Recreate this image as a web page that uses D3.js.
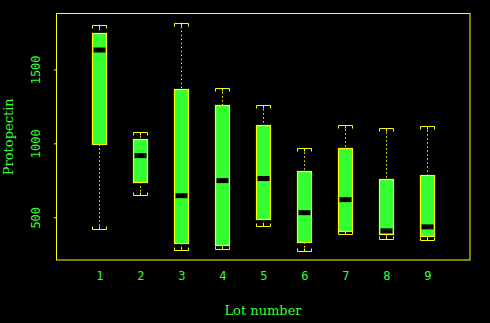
<!DOCTYPE html>
<html>
<head>
<meta charset="utf-8">
<script src="https://cdn.jsdelivr.net/npm/d3@7"></script>
<style>
  body { margin: 0; background: #000; }
  svg { display: block; }
</style>
</head>
<body>
<div id="chart"></div>
<script>
// Box plot data (Protopectin by lot)
const lots    = [1, 2, 3, 4, 5, 6, 7, 8, 9];
const lowCap  = [422, 650, 279, 283, 444, 274, 390, 356, 349];
const q1      = [993, 739, 327, 313, 490, 333, 405, 385, 371];
const median  = [1631, 917, 646, 748, 762, 531, 619, 408, 435];
const q3      = [1748, 1027, 1367, 1259, 1122, 816, 966, 762, 789];
const highCap = [1802, 1075, 1816, 1374, 1259, 966, 1122, 1102, 1116];
const yTicks  = [500, 1000, 1500];

const data = lots.map((d, i) => ({
  lot: d, lo: lowCap[i], q1: q1[i], med: median[i], q3: q3[i], hi: highCap[i]
}));

const width = 490, height = 323;
const margins = {top: 13.5, right: 20, bottom: 63, left: 56};
const yellow = "#ffff00", green = "#33ff33";

const svg = d3.select("#chart")
  .append("svg")
    .attr("width", width)
    .attr("height", height)
    .attr("viewBox", [0, 0, width, height])
    .style("background", "#000");

const xScale = d3.scaleLinear()
  .domain([1, 9])
  .range([99.3, 427.3]);

const yScale = d3.scaleLinear()
  .domain([211, 1878])
  .range([height - margins.bottom, margins.top]);

const boxW = 14;

// Whiskers (dotted)
const g = svg.append("g").attr("class", "boxes");

g.selectAll("line.upper")
  .data(data)
  .join("line")
    .attr("x1", d => Math.round(xScale(d.lot)) + 0.5)
    .attr("x2", d => Math.round(xScale(d.lot)) + 0.5)
    .attr("y1", d => yScale(d.hi))
    .attr("y2", d => yScale(d.q3))
    .attr("stroke", yellow)
    .attr("stroke-dasharray", "1.5,2.5");

g.selectAll("line.lower")
  .data(data)
  .join("line")
    .attr("x1", d => Math.round(xScale(d.lot)) + 0.5)
    .attr("x2", d => Math.round(xScale(d.lot)) + 0.5)
    .attr("y1", d => yScale(d.q1))
    .attr("y2", d => yScale(d.lo))
    .attr("stroke", yellow)
    .attr("stroke-dasharray", "1.5,2.5");

// Caps: a bar with three small ticks pointing to the box
const capPath = (x, y, dir) => {
  const l = Math.round(x - boxW / 2) + 0.5, r = l + boxW, m = Math.round(x) + 0.5;
  const yy = Math.round(y) + 0.5, t = yy + dir * 3;
  return `M${l},${t}V${yy}H${r}V${t}M${m},${yy}V${t}`;
};

g.selectAll("path.hicap")
  .data(data)
  .join("path")
    .attr("d", d => capPath(xScale(d.lot), yScale(d.hi), 1))
    .attr("fill", "none")
    .attr("stroke", yellow);

g.selectAll("path.locap")
  .data(data)
  .join("path")
    .attr("d", d => capPath(xScale(d.lot), yScale(d.lo), -1))
    .attr("fill", "none")
    .attr("stroke", yellow);

// Boxes
g.selectAll("rect.box")
  .data(data)
  .join("rect")
    .attr("x", d => Math.round(xScale(d.lot) - boxW / 2) + 0.5)
    .attr("y", d => Math.round(yScale(d.q3)) + 0.5)
    .attr("width", boxW)
    .attr("height", d => Math.round(yScale(d.q1)) - Math.round(yScale(d.q3)))
    .attr("fill", green)
    .attr("stroke", yellow)
    .attr("stroke-width", 1.2);

// Median bands
g.selectAll("rect.med")
  .data(data)
  .join("rect")
    .attr("x", d => Math.round(xScale(d.lot) - boxW / 2) + 1.5)
    .attr("y", d => yScale(d.med) - 2.5)
    .attr("width", boxW - 2)
    .attr("height", 5)
    .attr("fill", "#000");

// Frame
svg.append("rect")
  .attr("x", margins.left + 0.5)
  .attr("y", margins.top)
  .attr("width", width - margins.right - margins.left - 0.5)
  .attr("height", height - margins.bottom - margins.top)
  .attr("fill", "none")
  .attr("stroke", yellow);

// Y axis
const yAxis = svg.append("g")
  .attr("transform", `translate(${margins.left},0)`)
  .call(d3.axisLeft(yScale).tickValues(yTicks).tickSize(2).tickPadding(0));
yAxis.select(".domain").remove();
yAxis.selectAll("line").attr("stroke", yellow);
yAxis.selectAll("text").remove();
yAxis.selectAll(".tick").append("text")
  .attr("transform", "translate(-16,0) rotate(-90)")
  .attr("text-anchor", "middle")
  .attr("fill", green)
  .style("font", "12px 'DejaVu Sans Mono', monospace")
  .text(d => d);

// X axis labels
const xAxis = svg.append("g")
  .attr("transform", `translate(0,${height - margins.bottom})`)
  .call(d3.axisBottom(xScale).tickValues(lots).tickSize(0).tickPadding(0));
xAxis.select(".domain").remove();
xAxis.selectAll("text")
  .attr("y", 20)
  .attr("dy", 0)
  .attr("fill", green)
  .style("font", "12px 'DejaVu Sans Mono', monospace");

// Axis titles
svg.append("text")
  .attr("x", (margins.left + width - margins.right) / 2)
  .attr("y", 315)
  .attr("text-anchor", "middle")
  .attr("fill", green)
  .style("font", "13px 'DejaVu Serif', serif")
  .text("Lot number");

svg.append("text")
  .attr("transform", `translate(13,${(margins.top + height - margins.bottom) / 2}) rotate(-90)`)
  .attr("text-anchor", "middle")
  .attr("fill", green)
  .style("font", "13px 'DejaVu Serif', serif")
  .text("Protopectin");
</script>
</body>
</html>
